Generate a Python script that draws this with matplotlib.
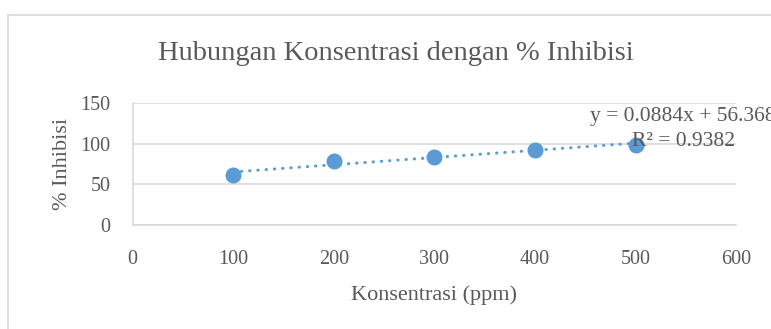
import matplotlib.pyplot as plt
from matplotlib.patches import Rectangle
import numpy as np

plt.rcParams['font.family'] = ['Liberation Serif', 'DejaVu Serif']

konsentrasi = [100, 200, 300, 400, 500]
inhibisi = [60.9, 79.2, 83.6, 92.9, 98.6]
x_ticks = [0, 100, 200, 300, 400, 500, 600]
y_ticks = [0, 50, 100, 150]

text_color = '#595959'
grid_color = '#d9d9d9'
blue = '#5B9BD5'

fig = plt.figure(figsize=(7.71, 3.29), dpi=100)
ax = fig.add_axes([0.172, 0.317, 0.783, 0.369])

# outer chart border (cut off at right and bottom)
fig.patches.append(Rectangle((8 / 771, -0.2), 1.2, 0.954 + 0.2, transform=fig.transFigure,
                             fill=False, edgecolor=grid_color, linewidth=1.2))

# trendline
coef = np.polyfit(konsentrasi, inhibisi, 1)
xt = np.array([konsentrasi[0], konsentrasi[-1]])
ax.plot(xt, np.polyval(coef, xt), color=blue, linewidth=2.2,
        linestyle=(0, (0.1, 2.6)), dash_capstyle='round', zorder=2)

ax.plot(konsentrasi, inhibisi, 'o', color=blue, markersize=10.5, zorder=3)

ax.set_xlim(0, 600)
ax.set_ylim(0, 150)
ax.set_xticks(x_ticks)
ax.set_yticks(y_ticks)
ax.grid(axis='y', color=grid_color, linewidth=1.2)
ax.set_axisbelow(True)
for s in ['top', 'right']:
    ax.spines[s].set_visible(False)
for s in ['left', 'bottom']:
    ax.spines[s].set_color(grid_color)
    ax.spines[s].set_linewidth(1.2)
ax.tick_params(length=0, labelsize=14.5, labelcolor=text_color)
ax.tick_params(axis='y', pad=16)
ax.tick_params(axis='x', pad=18)

ax.set_xlabel('Konsentrasi (ppm)', fontsize=16, color=text_color, labelpad=12)
ax.set_ylabel('% Inhibisi', fontsize=16, color=text_color, labelpad=6)

fig.text(396 / 771, 1 - 54 / 329, 'Hubungan Konsentrasi dengan % Inhibisi',
         ha='center', va='center', fontsize=20.5, color=text_color)

# trendline label, cut off at the right edge as in the original
fig.text(683 / 771, 1 - 129 / 329, 'y = 0.0884x + 56.368\nR² = 0.9382',
         ha='center', va='center', fontsize=15.5, color=text_color, linespacing=1.45)

fig.savefig('out.png', dpi=100, facecolor='white')
